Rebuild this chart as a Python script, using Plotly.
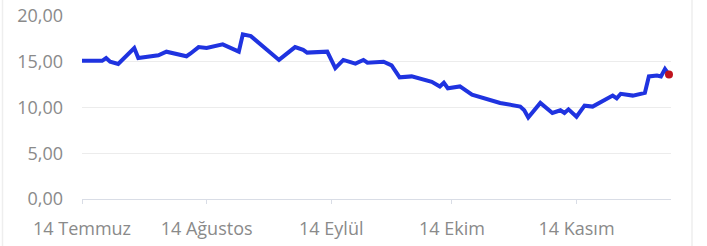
import plotly.graph_objects as go

dates = ["2023-07-14","2023-07-19","2023-07-20","2023-07-21","2023-07-23","2023-07-27","2023-07-28",
         "2023-08-02","2023-08-04","2023-08-09","2023-08-10","2023-08-12","2023-08-14","2023-08-18",
         "2023-08-22","2023-08-23","2023-08-25","2023-09-01","2023-09-05","2023-09-07","2023-09-08",
         "2023-09-13","2023-09-15","2023-09-17","2023-09-20","2023-09-22","2023-09-23","2023-09-27",
         "2023-09-29","2023-10-01","2023-10-04","2023-10-06","2023-10-09","2023-10-11","2023-10-12",
         "2023-10-13","2023-10-16","2023-10-19","2023-10-23","2023-10-26","2023-10-31","2023-11-01",
         "2023-11-02","2023-11-05","2023-11-08","2023-11-10","2023-11-11","2023-11-12","2023-11-14",
         "2023-11-16","2023-11-18","2023-11-20","2023-11-23","2023-11-24","2023-11-25","2023-11-28",
         "2023-12-01","2023-12-02","2023-12-04","2023-12-05","2023-12-06","2023-12-07"]
values = [15.1,15.1,15.4,15.0,14.75,16.5,15.4,
          15.7,16.1,15.6,15.9,16.6,16.5,16.9,
          16.1,18.0,17.8,15.2,16.6,16.3,16.0,
          16.1,14.3,15.2,14.8,15.2,14.9,15.0,
          14.6,13.3,13.4,13.2,12.8,12.3,12.7,
          12.1,12.3,11.4,10.9,10.5,10.1,9.7,
          8.9,10.5,9.4,9.7,9.4,9.8,9.0,
          10.2,10.1,10.6,11.3,11.0,11.5,11.3,
          11.6,13.4,13.5,13.4,14.2,13.6]

tick_dates = ["2023-07-14","2023-08-14","2023-09-14","2023-10-14","2023-11-14"]
tick_labels = ["14 Temmuz","14 Ağustos","14 Eylül","14 Ekim","14 Kasım"]
y_ticks = [0, 5, 10, 15, 20]

fig = go.Figure()
fig.add_trace(go.Scatter(x=dates, y=values, mode="lines",
                         line=dict(color="#1f33e0", width=4), hoverinfo="skip"))
fig.add_trace(go.Scatter(x=[dates[-1]], y=[values[-1]], mode="markers", cliponaxis=False,
                         marker=dict(color="#c0141e", size=8), hoverinfo="skip"))

L, R, T, B = 82, 36, 16, 47
W, H = 707, 246
pw = W - L - R
ph = H - T - B

fig.update_layout(
    width=W, height=H,
    margin=dict(l=L, r=R, t=T, b=B, autoexpand=False),
    paper_bgcolor="white", plot_bgcolor="white",
    showlegend=False,
    separators=",.",
    font=dict(family="Open Sans", size=18, color="#8a8a8a"),
    xaxis=dict(range=["2023-07-14", "2023-12-07 12:00"], tickvals=tick_dates, ticktext=tick_labels,
               showgrid=False, zeroline=False, showline=True, linecolor="#d9dde6", linewidth=1,
               ticks="outside", ticklen=4, tickcolor="#d9dde6", tickfont=dict(size=18),
               automargin=False, ticklabelstandoff=9),
    yaxis=dict(range=[0, 20], tickvals=y_ticks, tickformat=".2f",
               showgrid=True, gridcolor="#ececec", gridwidth=1, zeroline=False,
               showline=False, ticks="", ticklabelstandoff=18, tickfont=dict(size=18),
               automargin=False),
)

for xpx in (2.5, 692):
    xp = (xpx - L) / pw
    fig.add_shape(type="line", xref="paper", yref="paper", x0=xp, x1=xp,
                  y0=-B / ph, y1=1 + T / ph, line=dict(color="#eeeeee", width=1.5))

fig.write_html("out.html", config={"displayModeBar": False},
               post_script="document.body.style.margin='0';")
